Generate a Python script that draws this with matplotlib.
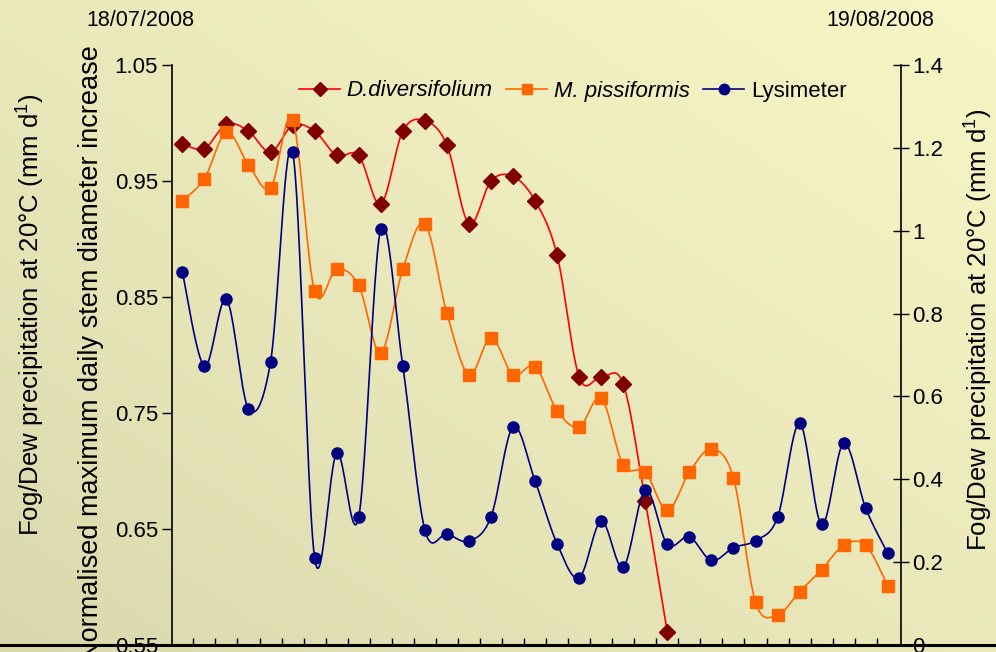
import numpy as np
import matplotlib
matplotlib.use("Agg")
import matplotlib.pyplot as plt
from matplotlib.lines import Line2D

plt.rcParams['font.family'] = ['Liberation Sans', 'DejaVu Sans']

# ---- data ----
days = list(range(33))
date_start = "18/07/2008"
date_end = "19/08/2008"

d_diversifolium = [0.982, 0.978, 0.999, 0.993, 0.975, 0.998, 0.993, 0.972, 0.972,
                   0.930, 0.993, 1.002, 0.981, 0.913, 0.950, 0.954, 0.933, 0.886,
                   0.781, 0.781, 0.775, 0.674, 0.561]
m_pissiformis = [0.933, 0.952, 0.992, 0.964, 0.944, 1.003, 0.855, 0.874, 0.860,
                 0.802, 0.874, 0.913, 0.836, 0.783, 0.815, 0.783, 0.790, 0.752,
                 0.738, 0.763, 0.705, 0.699, 0.666, 0.699, 0.719, 0.694, 0.587,
                 0.576, 0.596, 0.615, 0.636, 0.636, 0.601]
lysimeter = [0.900, 0.673, 0.834, 0.570, 0.683, 1.191, 0.210, 0.463, 0.309,
             1.004, 0.673, 0.278, 0.268, 0.251, 0.309, 0.526, 0.396, 0.244,
             0.162, 0.299, 0.188, 0.374, 0.243, 0.261, 0.204, 0.235, 0.252,
             0.308, 0.535, 0.291, 0.487, 0.330, 0.221]

left_ticks = [0.55, 0.65, 0.75, 0.85, 0.95, 1.05]
right_ticks = [0, 0.2, 0.4, 0.6, 0.8, 1.0, 1.2, 1.4]
right_ticklabels = ["0", "0.2", "0.4", "0.6", "0.8", "1", "1.2", "1.4"]


def smooth(x, y, n=24):
    """Excel-like smoothed line (cubic Bezier, Catmull-Rom control points)."""
    x = np.asarray(x, float)
    y = np.asarray(y, float)
    P = np.column_stack([x, y])
    ext = np.vstack([P[0], P, P[-1]])
    out = []
    t = np.linspace(0, 1, n)[:, None]
    for i in range(len(P) - 1):
        p0, p1, p2, p3 = ext[i], ext[i + 1], ext[i + 2], ext[i + 3]
        c1 = p1 + (p2 - p0) / 6.0
        c2 = p2 - (p3 - p1) / 6.0
        seg = ((1 - t) ** 3) * p1 + 3 * ((1 - t) ** 2) * t * c1 + 3 * (1 - t) * t ** 2 * c2 + t ** 3 * p2
        out.append(seg if i == 0 else seg[1:])
    out = np.vstack(out)
    return out[:, 0], out[:, 1]


W, H = 996, 652
fig = plt.figure(figsize=(W / 100, H / 100), dpi=100)
fig.patch.set_facecolor('#ECEBC0')

# background gradient: brightest top-right, darkest bottom-left
bg = fig.add_axes([0, 0, 1, 1], zorder=-10)
r, c = np.mgrid[0:1:200j, 0:1:300j]   # r: 0 top -> 1 bottom
tt = 0.5 * c + 0.5 * (1 - r)
tt = tt ** 0.8
bright = np.array([248, 246, 198]) / 255
dark = np.array([216, 215, 172]) / 255
img = dark[None, None, :] + (bright - dark)[None, None, :] * tt[:, :, None]
bg.imshow(np.clip(img, 0, 1), aspect='auto', extent=[0, 1, 0, 1], origin='upper')
bg.set_axis_off()

left = 172 / W
right = 901 / W
bottom = (H - 645) / H
top_ = (H - 65) / H
ax = fig.add_axes([left, bottom, right - left, top_ - bottom])
ax.patch.set_alpha(0)
ax2 = ax.twinx()
ax2.patch.set_alpha(0)

red_line = '#FF0000'
red_mark = '#800000'
orange = '#FF6600'
navy = '#000080'

xs, ys = smooth(days[:len(d_diversifolium)], d_diversifolium)
ax.plot(xs, ys, color=red_line, lw=1.2, zorder=3)
ax.plot(days[:len(d_diversifolium)], d_diversifolium, ls='none', marker='D',
        ms=8, color=red_mark, zorder=4)

xs, ys = smooth(days, m_pissiformis)
ax.plot(xs, ys, color=orange, lw=1.2, zorder=5)
ax.plot(days, m_pissiformis, ls='none', marker='s', ms=8, color=orange, zorder=6)

xs, ys = smooth(days, lysimeter)
ax2.plot(xs, ys, color=navy, lw=1.2, zorder=3)
ax2.plot(days, lysimeter, ls='none', marker='o', ms=8, color=navy, zorder=4)

ax.set_xlim(-0.47, 32.6)
ax.set_ylim(0.55, 1.05)
ax2.set_ylim(0, 1.4)

ax.set_yticks(left_ticks)
ax.set_yticklabels([f"{v:.2f}" for v in left_ticks])
ax2.set_yticks(right_ticks)
ax2.set_yticklabels(right_ticklabels)

ax.set_xticks([d + 0.5 for d in days[:-1]])
ax.set_xticklabels([])
ax.tick_params(axis='x', direction='in', length=5, width=1, color='black')
ax.tick_params(axis='y', direction='out', length=7, width=1, labelsize=16, pad=3)
ax2.tick_params(axis='y', direction='inout', length=12, width=1, labelsize=16, pad=2)

for a in (ax, ax2):
    a.spines['top'].set_visible(False)
ax2.spines['left'].set_visible(False)
ax2.spines['bottom'].set_visible(False)
ax.spines['right'].set_visible(False)
ax.spines['bottom'].set_visible(False)
ax.spines['left'].set_linewidth(1.2)
ax2.spines['right'].set_linewidth(1.2)

# full-width bottom line
fig.add_artist(Line2D([0, 1], [bottom, bottom], transform=fig.transFigure,
                      color='black', lw=2.2, zorder=20))

# axis labels
fig.text(30 / W, 1 - 315 / H, "Fog/Dew precipitation at 20\u00b0C (mm d$^{\\mathregular{1}}$)",
         rotation=90, ha='center', va='center', fontsize=18.5)
fig.text(91 / W, 1 - 45 / H, "Normalised maximum daily stem diameter increase",
         rotation=90, ha='center', va='top', fontsize=19.5)
fig.text(978 / W, 1 - 330 / H, "Fog/Dew precipitation at 20\u00b0C (mm d$^{\\mathregular{1}}$)",
         rotation=90, ha='center', va='center', fontsize=18.5)

fig.text(140 / W, 1 - 21 / H, date_start, ha='center', va='center', fontsize=15.5)
fig.text(880 / W, 1 - 21 / H, date_end, ha='center', va='center', fontsize=15.5)

handles = [
    Line2D([], [], color=red_line, lw=1.2, marker='D', ms=7.5, mfc=red_mark, mec=red_mark),
    Line2D([], [], color=orange, lw=1.2, marker='s', ms=7.5, mfc=orange, mec=orange),
    Line2D([], [], color=navy, lw=1.2, marker='o', ms=7.5, mfc=navy, mec=navy),
]
leg = fig.legend(handles, ["D.diversifolium", "M. pissiformis", "Lysimeter"],
                 loc='center left', bbox_to_anchor=(299 / W, 1 - 91 / H), ncol=3,
                 frameon=False, fontsize=16, handlelength=1.85, handletextpad=0.3,
                 columnspacing=0.6, borderaxespad=0, borderpad=0)
texts = leg.get_texts()
texts[0].set_fontstyle('italic')
texts[1].set_fontstyle('italic')

fig.savefig("out.png", dpi=100)
